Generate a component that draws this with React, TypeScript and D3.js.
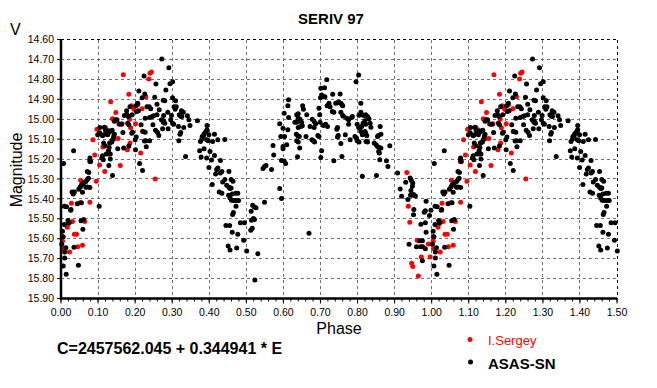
import * as d3 from 'd3';

// phase in [0,1); points with phase <= 0.5 are repeated at phase + 1
const asasSn: [number, number][] = [
  // 0.00 - 0.12, faint side
  [0.007, 15.223], [0.009, 15.437], [0.027, 15.453], [0.030, 15.365], [0.033, 15.375], [0.036, 15.365],
  [0.048, 15.352], [0.052, 15.34], [0.055, 15.33], [0.059, 15.323], [0.062, 15.318], [0.067, 15.313],
  [0.071, 15.303], [0.074, 15.297], [0.067, 15.342], [0.071, 15.34], [0.078, 15.343], [0.058, 15.367],
  [0.044, 15.425], [0.055, 15.42], [0.061, 15.503], [0.054, 15.51], [0.071, 15.263], [0.075, 15.267],
  [0.103, 15.437], [0.004, 15.562], [0.009, 15.528], [0.006, 15.59], [0.019, 15.508], [0.022, 15.52],
  [0.010, 15.667], [0.010, 15.697], [0.006, 15.737], [0.047, 15.733], [0.014, 15.778], [0.035, 15.643],
  [0.002, 15.628], [0.013, 15.645], [0.059, 15.552], [0.015, 15.44], [0.026, 15.457],
  // 0.00 - 0.25, rise to maximum
  [0.224, 14.783], [0.210, 14.858], [0.226, 14.873], [0.219, 14.892], [0.186, 14.937], [0.202, 14.933],
  [0.207, 14.92], [0.232, 14.937], [0.238, 14.937], [0.242, 14.948], [0.178, 14.978], [0.182, 14.987],
  [0.192, 14.978], [0.227, 14.995], [0.239, 14.992], [0.246, 14.987], [0.250, 14.983], [0.151, 15.003],
  [0.158, 15.025], [0.163, 15.025], [0.180, 15.02], [0.183, 15.028], [0.216, 15.028], [0.248, 15.028],
  [0.105, 15.042], [0.115, 15.078], [0.112, 15.083], [0.129, 15.067], [0.128, 15.058], [0.126, 15.078],
  [0.144, 15.075], [0.142, 15.087], [0.139, 15.103], [0.099, 15.078], [0.167, 15.067], [0.191, 15.07],
  [0.193, 15.065], [0.221, 15.062], [0.227, 15.065], [0.200, 15.103], [0.203, 15.09], [0.225, 15.11],
  [0.229, 15.108], [0.239, 15.108], [0.230, 15.138], [0.115, 15.12], [0.119, 15.133], [0.132, 15.12],
  [0.137, 15.115], [0.130, 15.142], [0.153, 15.148], [0.183, 15.135], [0.169, 15.145], [0.201, 15.153],
  [0.034, 15.158], [0.128, 15.158], [0.122, 15.175], [0.128, 15.175], [0.133, 15.175], [0.112, 15.183],
  [0.110, 15.195], [0.114, 15.203], [0.078, 15.195], [0.078, 15.208], [0.080, 15.212], [0.133, 15.2],
  [0.129, 15.233], [0.212, 15.222], [0.220, 15.258], [0.139, 15.282],
  [0.117, 15.04], [0.120, 15.055], [0.123, 15.068], [0.104, 15.068], [0.133, 15.06], [0.138, 15.055],
  [0.147, 15.003], [0.144, 15.01], [0.171, 14.982], [0.177, 14.957], [0.209, 14.957], [0.204, 14.962],
  [0.253, 14.89],
  // 0.25 - 0.50, descent to secondary minimum
  [0.272, 14.698], [0.291, 14.742], [0.294, 14.822], [0.301, 14.812], [0.256, 14.823], [0.283, 14.853],
  [0.276, 14.905], [0.280, 14.908], [0.301, 14.892], [0.309, 14.908], [0.259, 14.925], [0.305, 14.937],
  [0.311, 14.937], [0.308, 14.95], [0.265, 14.953], [0.325, 14.958], [0.330, 14.965], [0.259, 14.978],
  [0.288, 14.965], [0.277, 14.982], [0.298, 14.982], [0.319, 14.978], [0.323, 14.985], [0.326, 14.987],
  [0.341, 14.983], [0.345, 15.003], [0.271, 15.003], [0.277, 15.008], [0.280, 15.02], [0.276, 15.015],
  [0.296, 15.003], [0.301, 15.02], [0.304, 15.025], [0.368, 15.008], [0.317, 15.037], [0.331, 15.042],
  [0.348, 15.032], [0.274, 15.048], [0.289, 15.048], [0.394, 15.032], [0.255, 15.055], [0.260, 15.065],
  [0.264, 15.082], [0.323, 15.067], [0.321, 15.075], [0.318, 15.108], [0.386, 15.073], [0.391, 15.062],
  [0.394, 15.053], [0.381, 15.087], [0.384, 15.085], [0.399, 15.078], [0.414, 15.075], [0.376, 15.112],
  [0.380, 15.1], [0.393, 15.103], [0.397, 15.108], [0.409, 15.112], [0.423, 15.103], [0.442, 15.102],
  [0.374, 15.158], [0.386, 15.148], [0.402, 15.162], [0.336, 15.187], [0.378, 15.19], [0.393, 15.195],
  [0.406, 15.205], [0.414, 15.182], [0.430, 15.207], [0.399, 15.242], [0.420, 15.253], [0.423, 15.245],
  [0.417, 15.275], [0.430, 15.27], [0.434, 15.263], [0.453, 15.262], [0.408, 15.328], [0.436, 15.315],
  [0.442, 15.303], [0.447, 15.332], [0.453, 15.342], [0.459, 15.303], [0.464, 15.312], [0.427, 15.365],
  [0.434, 15.372], [0.456, 15.348], [0.459, 15.345], [0.462, 15.375], [0.471, 15.372], [0.477, 15.372],
  [0.452, 15.382], [0.456, 15.395], [0.460, 15.407], [0.465, 15.408], [0.472, 15.408], [0.479, 15.408],
  [0.472, 15.437], [0.465, 15.468], [0.463, 15.478], [0.445, 15.533], [0.455, 15.533], [0.484, 15.52],
  [0.495, 15.52], [0.462, 15.567], [0.477, 15.578], [0.493, 15.607], [0.451, 15.637], [0.456, 15.657],
  [0.474, 15.647], [0.501, 15.662],
  // 0.50 - 0.76
  [0.523, 15.807], [0.531, 15.675], [0.512, 15.558], [0.516, 15.548], [0.514, 15.507], [0.519, 15.498],
  [0.522, 15.503], [0.513, 15.462], [0.517, 15.432], [0.521, 15.44], [0.526, 15.445], [0.549, 15.417],
  [0.590, 15.348], [0.595, 15.398], [0.545, 15.248], [0.549, 15.238], [0.553, 15.232], [0.568, 15.253],
  [0.595, 15.207], [0.602, 15.21], [0.606, 15.222], [0.574, 15.18], [0.572, 15.132], [0.599, 15.137],
  [0.599, 15.148], [0.593, 15.087], [0.603, 15.087], [0.609, 15.128], [0.638, 15.188], [0.590, 15.023],
  [0.599, 15.045], [0.612, 15.053], [0.602, 14.97], [0.612, 14.933], [0.614, 14.903], [0.614, 14.992],
  [0.636, 14.978], [0.640, 14.973], [0.631, 15.015], [0.636, 15.015], [0.642, 15.008], [0.645, 15.0],
  [0.640, 14.995], [0.649, 15.015], [0.652, 14.932], [0.654, 14.95], [0.663, 14.978], [0.640, 15.042],
  [0.647, 15.037], [0.651, 15.033], [0.635, 15.075], [0.639, 15.083], [0.643, 15.087], [0.636, 15.108],
  [0.640, 15.115], [0.644, 15.145], [0.661, 15.087], [0.672, 15.037], [0.683, 15.042], [0.678, 15.0],
  [0.683, 15.012], [0.687, 15.023], [0.696, 14.945], [0.698, 14.978], [0.699, 15.015], [0.677, 15.103],
  [0.681, 15.108], [0.684, 15.115], [0.693, 15.082], [0.696, 15.087], [0.703, 15.158], [0.701, 15.192],
  [0.700, 14.892], [0.703, 14.878], [0.708, 14.887], [0.712, 14.887], [0.701, 14.845], [0.711, 14.842],
  [0.717, 14.802], [0.708, 15.032], [0.714, 15.025], [0.719, 15.037], [0.718, 14.933], [0.723, 14.92],
  [0.726, 14.937], [0.732, 14.962], [0.736, 14.965], [0.733, 14.875], [0.753, 14.873], [0.741, 14.92],
  [0.745, 14.918], [0.750, 14.915], [0.755, 14.92], [0.758, 14.928], [0.760, 14.932], [0.755, 14.965],
  [0.760, 14.982], [0.744, 15.05], [0.746, 15.042], [0.748, 15.082], [0.746, 15.09], [0.755, 15.122],
  [0.758, 15.187], [0.736, 15.208], [0.669, 15.573],
  // 0.76 - 0.93
  [0.803, 14.778], [0.796, 14.812], [0.809, 14.92], [0.762, 14.985], [0.771, 14.995], [0.776, 15.003],
  [0.784, 14.992], [0.786, 14.987], [0.809, 14.965], [0.804, 14.98], [0.811, 14.978], [0.817, 14.982],
  [0.822, 14.978], [0.827, 14.987], [0.831, 14.998], [0.820, 15.008], [0.815, 15.02], [0.811, 15.037],
  [0.822, 15.025], [0.834, 15.02], [0.836, 15.04], [0.799, 15.025], [0.803, 15.042], [0.806, 15.045],
  [0.809, 15.062], [0.776, 15.025], [0.767, 15.078], [0.780, 15.103], [0.793, 15.087], [0.799, 15.108],
  [0.804, 15.115], [0.797, 15.095], [0.813, 15.078], [0.817, 15.07], [0.822, 15.07], [0.825, 15.083],
  [0.820, 15.062], [0.827, 15.115], [0.823, 15.112], [0.861, 15.037], [0.863, 15.075], [0.854, 15.087],
  [0.856, 15.082], [0.845, 15.12], [0.850, 15.128], [0.854, 15.137], [0.858, 15.142], [0.863, 15.145],
  [0.857, 15.162], [0.859, 15.17], [0.887, 15.133], [0.860, 15.203], [0.878, 15.208], [0.882, 15.238],
  [0.813, 15.287], [0.851, 15.282], [0.908, 15.27],
  // 0.90 - 1.00, primary minimum
  [0.942, 15.295], [0.945, 15.307], [0.949, 15.32], [0.948, 15.337], [0.930, 15.317], [0.915, 15.35],
  [0.944, 15.358], [0.943, 15.38], [0.947, 15.382], [0.951, 15.378], [0.956, 15.385], [0.919, 15.387],
  [0.936, 15.403], [0.952, 15.453], [0.951, 15.48], [0.985, 15.412], [0.980, 15.467], [0.983, 15.46],
  [0.998, 15.457], [0.994, 15.483], [0.971, 15.527], [0.983, 15.52], [0.985, 15.567], [0.939, 15.628],
  [0.959, 15.64], [0.968, 15.61], [0.975, 15.61], [0.970, 15.64], [0.976, 15.64], [0.983, 15.65],
  [0.975, 15.71],
];

const iSergey: [number, number][] = [
  [0.933, 15.267], [0.937, 15.437], [0.941, 15.517], [0.961, 15.607], [0.965, 15.61], [0.972, 15.692],
  [0.946, 15.723], [0.949, 15.74], [0.964, 15.787], [0.991, 15.627], [0.996, 15.692],
  [0.004, 15.59], [0.004, 15.612], [0.005, 15.65], [0.023, 15.667], [0.018, 15.528], [0.017, 15.543],
  [0.031, 15.513], [0.028, 15.422], [0.036, 15.577], [0.042, 15.577], [0.045, 15.64], [0.058, 15.633],
  [0.053, 15.307], [0.051, 15.42], [0.064, 15.513], [0.078, 15.417], [0.095, 15.312],
  [0.168, 14.777], [0.244, 14.763], [0.240, 14.77], [0.237, 14.798], [0.183, 14.875], [0.134, 14.913],
  [0.229, 14.887], [0.219, 14.947], [0.207, 14.928], [0.197, 14.95], [0.190, 14.933], [0.148, 14.967],
  [0.139, 14.998], [0.156, 15.023], [0.165, 15.023], [0.185, 15.0], [0.188, 15.043], [0.201, 15.023],
  [0.220, 15.06], [0.120, 15.043], [0.097, 15.05], [0.145, 15.098], [0.154, 15.097], [0.086, 15.103],
  [0.131, 15.12], [0.113, 15.14], [0.186, 15.12], [0.179, 15.153], [0.091, 15.18], [0.215, 15.17],
  [0.104, 15.23], [0.160, 15.233], [0.078, 15.213], [0.118, 15.262], [0.254, 15.30],
];

const xTicks = d3.range(0, 1.5001, 0.1);
const yTicks = d3.range(14.6, 15.9001, 0.1);

const fold = (pts: [number, number][]) =>
  pts.flatMap(([p, m]) => (p <= 0.502 ? [[p, m], [p + 1, m]] : [[p, m]]));

export default function App() {
  const width = 657;
  const height = 388;
  const left = 61, right = 617, top = 39.5, bottom = 298.5;

  const x = d3.scaleLinear().domain([0, 1.5]).range([left, right]);
  const y = d3.scaleLinear().domain([14.6, 15.9]).range([top, bottom]);
  const minorTicks = d3.range(0, 1.5001, 0.02);

  const font = "'Liberation Sans', Arial, sans-serif";
  const dot = 2.5;

  return (
    <svg width={width} height={height} style={{ position: 'absolute', left: 0, top: 0, background: '#fff' }}
      fontFamily={font}>
      <rect width={width} height={height} fill="#fff" />
      <text x={331} y={24} textAnchor="middle" fontSize={15} fontWeight="bold">SERIV 97</text>
      <text x={10} y={35} fontSize={16}>V</text>

      {/* grid */}
      <g shapeRendering="crispEdges">
        {xTicks.slice(1, -1).map((t, i) => (
          <line key={'gx' + i} x1={x(t)} x2={x(t)} y1={top} y2={bottom} stroke="#707070" strokeDasharray="3,3" />
        ))}
        {yTicks.slice(1, -1).map((t, i) => (
          <line key={'gy' + i} x1={left} x2={right} y1={y(t)} y2={y(t)} stroke="#707070" strokeDasharray="3,3" />
        ))}
        <line x1={left} x2={right} y1={top} y2={top} stroke="#000" strokeDasharray="3,3" />
        <line x1={right} x2={right} y1={top} y2={bottom} stroke="#000" strokeDasharray="3,3" />
      </g>

      {/* points */}
      {fold(iSergey).map((d, i) => (
        <circle key={'r' + i} cx={x(d[0])} cy={y(d[1])} r={dot} fill="#ff0000" />
      ))}
      {fold(asasSn).map((d, i) => (
        <circle key={'b' + i} cx={x(d[0])} cy={y(d[1])} r={dot} fill="#000" />
      ))}

      {/* axes */}
      <line x1={left} x2={left} y1={top} y2={bottom + 1} stroke="#000" strokeWidth={2.5} />
      <line x1={left - 1} x2={right} y1={bottom} y2={bottom} stroke="#000" strokeWidth={2.5} />
      {yTicks.map((t, i) => (
        <g key={'yt' + i}>
          <line x1={left - 4} x2={left} y1={y(t)} y2={y(t)} stroke="#000" />
          <text x={54} y={y(t)} dy="0.35em" textAnchor="end" fontSize={10.5}>{t.toFixed(2)}</text>
        </g>
      ))}
      {minorTicks.map((t, i) => (
        <line key={'mt' + i} x1={x(t)} x2={x(t)} y1={bottom} y2={bottom + 3} stroke="#000" />
      ))}
      {xTicks.map((t, i) => (
        <g key={'xt' + i}>
          <line x1={x(t)} x2={x(t)} y1={bottom} y2={bottom + 5} stroke="#000" />
          <text x={x(t)} y={316} textAnchor="middle" fontSize={10.5}>{t.toFixed(2)}</text>
        </g>
      ))}

      <text x={339} y={334} textAnchor="middle" fontSize={16}>Phase</text>
      <text transform="translate(21.5,170) rotate(-90)" textAnchor="middle" fontSize={16}>Magnitude</text>

      <text x={57} y={354} fontSize={16} fontWeight="bold">C=2457562.045 + 0.344941 * E</text>

      {/* legend */}
      <circle cx={470} cy={339.5} r={dot} fill="#ff0000" />
      <text x={488} y={344.5} fontSize={13} fill="#ff0000">I.Sergey</text>
      <circle cx={470.5} cy={362} r={dot} fill="#000" />
      <text x={488} y={369} fontSize={15} fontWeight="bold">ASAS-SN</text>
    </svg>
  );
}
